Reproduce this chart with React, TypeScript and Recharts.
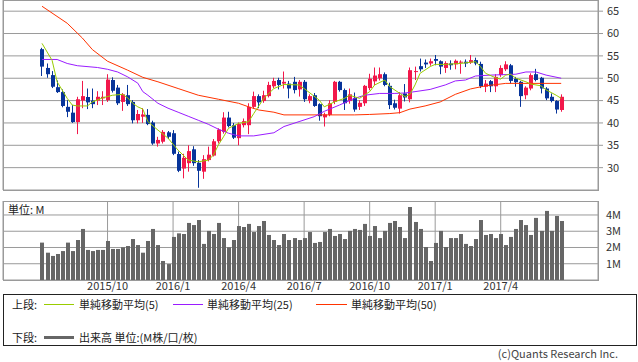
import { Bar, CartesianGrid, ComposedChart, Line, XAxis, YAxis } from "recharts";

// weekly candles, oldest first
const OPEN = [
  56.5, 52.3, 50.7, 48.0, 46.9, 43.6, 42.3, 40.2, 45.0, 45.8, 45.0, 45.0, 45.5, 45.1, 49.6, 47.9, 44.7, 46.2, 44.7, 40.6,
  41.4, 41.8, 40.1, 35.4, 35.8, 37.9, 37.7, 33.05, 29.8, 31.0, 34.1, 31.1, 29.1, 31.7, 32.7, 35.9, 38.0, 41.2, 39.5, 36.6,
  39.5, 39.5, 43.6, 46.0, 44.9, 46.0, 48.2, 49.6, 48.8, 48.8, 49.2, 47.5, 49.2, 45.0, 46.2, 44.2, 41.25, 41.8, 44.7, 49.2,
  47.35, 44.9, 45.6, 43.6, 44.4, 47.8, 49.3, 50.0, 50.9, 48.3, 44.4, 43.2, 46.6, 45.3, 51.4, 52.7, 53.5, 53.3, 54.3, 53.8,
  52.3, 53.3, 53.1, 53.5, 53.7, 53.5, 54.05, 53.2, 48.1, 49.35, 48.2, 50.7, 52.0, 52.9, 49.9, 49.2, 46.2, 47.7, 50.9, 50.1,
  47.7, 45.85, 44.9, 42.9,
];
const HIGH = [
  56.8, 53.3, 51.6, 49.5, 47.5, 45.1, 44.0, 45.85, 49.4, 47.7, 47.7, 47.1, 47.1, 50.9, 50.2, 48.5, 46.7, 48.5, 45.1, 42.9,
  43.3, 43.1, 40.5, 36.9, 38.4, 38.2, 38.4, 33.6, 33.1, 35.0, 34.8, 31.7, 32.8, 34.7, 36.4, 38.8, 42.4, 42.5, 40.0, 40.1,
  41.0, 44.4, 47.0, 46.4, 47.2, 49.2, 50.1, 50.1, 51.5, 49.4, 50.3, 49.6, 49.6, 46.4, 46.7, 44.4, 42.3, 45.1, 49.4, 49.4,
  47.7, 47.7, 46.8, 45.1, 48.5, 51.0, 52.4, 52.4, 51.3, 49.0, 45.2, 46.9, 48.7, 52.4, 52.6, 54.4, 54.2, 54.4, 55.2, 54.0,
  53.8, 54.0, 54.2, 54.0, 54.2, 55.2, 54.6, 53.7, 49.6, 49.6, 50.9, 52.9, 53.8, 53.2, 50.3, 49.4, 48.2, 51.1, 52.1, 50.3,
  48.0, 46.6, 45.1, 46.4,
];
const LOW = [
  50.5, 50.1, 47.8, 46.7, 43.5, 41.3, 40.0, 37.5, 43.3, 43.1, 43.3, 44.0, 44.0, 44.7, 46.8, 44.0, 42.7, 43.8, 39.9, 39.9,
  40.0, 39.5, 35.1, 34.7, 35.4, 36.4, 32.8, 29.0, 27.6, 29.1, 30.4, 25.5, 27.5, 31.4, 32.5, 35.4, 37.6, 39.0, 36.4, 35.0,
  39.0, 37.5, 43.2, 43.3, 44.5, 45.7, 47.8, 47.5, 47.7, 45.5, 46.6, 45.9, 44.7, 44.4, 43.6, 40.5, 39.2, 41.5, 44.2, 47.0,
  42.9, 44.3, 42.5, 42.9, 43.8, 47.3, 48.5, 49.5, 48.2, 43.1, 43.0, 42.1, 44.8, 44.6, 49.6, 51.5, 52.3, 52.8, 52.9, 50.9,
  51.2, 51.9, 52.0, 51.0, 52.5, 53.2, 52.9, 47.8, 46.9, 46.9, 46.9, 50.3, 51.6, 48.8, 48.1, 43.6, 45.3, 47.3, 49.3, 46.6,
  45.1, 44.6, 42.1, 42.5,
];
const CLOSE = [
  52.6, 50.9, 48.1, 46.9, 43.8, 42.5, 40.2, 45.3, 46.0, 44.6, 44.2, 45.85, 45.85, 49.7, 47.2, 44.4, 46.4, 44.2, 40.6, 42.0,
  41.9, 39.75, 35.4, 36.2, 38.0, 36.9, 33.1, 29.3, 32.2, 33.7, 31.0, 29.3, 31.9, 32.9, 35.9, 38.5, 41.2, 39.3, 36.7, 39.75,
  40.4, 43.6, 46.0, 44.6, 46.2, 48.5, 49.4, 48.5, 49.2, 47.7, 47.35, 49.2, 45.3, 46.0, 43.8, 41.5, 41.9, 44.4, 49.2, 47.35,
  44.4, 46.4, 43.0, 44.5, 48.3, 49.9, 50.6, 50.9, 48.5, 44.0, 43.4, 46.2, 45.7, 51.8, 51.6, 52.0, 53.1, 53.8, 53.9, 52.6,
  53.4, 52.9, 53.9, 53.7, 53.3, 54.05, 53.3, 48.2, 48.8, 48.2, 50.3, 52.3, 53.1, 49.4, 49.1, 46.0, 47.9, 50.7, 49.6, 47.7,
  45.5, 44.9, 43.0, 45.85,
];
// volume, millions
const VOLUME = [
  2.3, 1.68, 1.48, 1.6, 1.78, 2.3, 1.78, 2.46, 3.14, 1.85, 1.78, 1.85, 1.85, 2.4, 1.91, 1.91, 2.01, 2.09, 2.52, 2.15,
  1.68, 2.4, 3.14, 2.15, 1.17, 0.98, 2.65, 2.87, 2.83, 3.51, 3.38, 3.69, 2.22, 3.02, 2.83, 3.51, 2.58, 2.01, 2.46, 3.32,
  3.26, 3.45, 2.95, 3.32, 3.63, 2.77, 2.46, 2.15, 2.83, 2.46, 2.58, 2.46, 2.58, 2.95, 2.28, 2.34, 2.95, 3.14, 2.71, 2.83,
  2.52, 3.02, 3.14, 3.08, 3.45, 2.71, 3.32, 2.58, 3.02, 3.51, 3.63, 3.26, 2.58, 4.49, 3.57, 3.14, 2.03, 1.17, 2.28, 3.02,
  2.03, 2.58, 2.58, 2.83, 2.22, 2.09, 2.52, 3.69, 2.77, 2.83, 2.58, 2.83, 2.15, 2.65, 3.14, 3.69, 3.38, 2.77, 3.82, 3.02,
  4.25, 3.02, 3.94, 3.63,
];

// moving averages: [week index, value]
const MA5 = [
  [0, 57.8], [2, 54.0], [3, 49.2], [5, 45.5], [6, 44.0], [7, 43.8], [9, 43.8], [10, 44.7], [12, 45.6], [14, 46.2],
  [16, 46.4], [17, 45.6], [18, 44.4], [19, 43.6], [20, 43.1], [21, 40.3], [23, 38.4], [25, 36.6], [27, 33.9], [29, 31.7],
  [31, 31.3], [33, 31.7], [34, 32.8], [35, 35.1], [36, 36.9], [37, 38.8], [39, 39.9], [41, 40.3], [42, 42.1], [44, 45.5],
  [46, 47.7], [48, 48.6], [51, 48.5], [52, 47.7], [55, 45.1], [56, 43.6], [58, 44.7], [60, 45.5], [61, 46.2], [63, 45.5],
  [65, 47.0], [66, 48.5], [68, 49.6], [69, 48.1], [71, 46.6], [72, 45.9], [73, 46.4], [74, 48.5], [75, 51.1], [77, 52.6],
  [78, 53.1], [80, 53.1], [83, 53.3], [86, 53.7], [87, 52.6], [88, 51.1], [90, 50.1], [91, 49.8], [92, 50.7], [93, 50.9],
  [94, 50.0], [96, 49.2], [97, 48.7], [99, 48.3], [100, 47.4], [102, 46.2], [103, 45.5],
];
const MA25 = [
  [0, 54.2], [3, 54.2], [5, 53.3], [7, 52.8], [11, 52.4], [13, 52.0], [15, 51.4], [17, 50.3], [19, 48.9], [20, 47.0],
  [21, 46.2], [23, 44.4], [25, 43.3], [27, 42.4], [29, 41.5], [31, 40.6], [33, 39.7], [35, 38.6], [37, 37.7], [39, 37.1],
  [42, 37.1], [46, 37.8], [48, 39.2], [51, 40.3], [54, 41.4], [56, 42.6], [59, 44.0], [62, 45.5], [64, 46.2], [67, 46.6],
  [70, 46.6], [72, 46.7], [74, 47.0], [77, 47.5], [80, 48.5], [82, 49.4], [84, 49.6], [86, 50.5], [89, 50.7], [94, 50.9],
  [96, 51.4], [98, 51.4], [100, 50.7], [103, 50.0],
];
const MA50 = [
  [0, 66.1], [5, 62.3], [8, 59.0], [10, 56.4], [13, 53.8], [17, 51.8], [20, 50.2], [23, 49.2], [27, 47.7], [31, 46.2],
  [35, 45.3], [39, 44.4], [41, 43.6], [43, 42.9], [46, 42.4], [48, 41.8], [62, 41.8], [65, 41.9], [69, 42.1], [71, 42.3],
  [73, 43.1], [76, 43.8], [79, 44.7], [82, 46.4], [85, 47.6], [88, 48.3], [92, 48.85], [103, 48.85],
];

const X_TICKS = [13, 26, 39, 52, 65, 78, 91];
const X_LABELS = ["2015/10", "2016/1", "2016/4", "2016/7", "2016/10", "2017/1", "2017/4"];
const PRICE_TICKS = [30, 35, 40, 45, 50, 55, 60, 65];
const VOL_TICKS = [1, 2, 3, 4];

const UP = "#f2184b";
const DOWN = "#07349a";
const GRID = "#9a9a9a";
const FONT = '"Noto Sans CJK JP", "Noto Sans", sans-serif';
const X_DOMAIN = [-7.74, 110.3];

const lookup = (pairs: number[][]) => {
  const m = new Map<number, number>();
  pairs.forEach(([i, v]) => m.set(i, v));
  return m;
};
const ma5Map = lookup(MA5);
const ma25Map = lookup(MA25);
const ma50Map = lookup(MA50);

const rows = OPEN.map((o, i) => ({
  i,
  o,
  c: CLOSE[i],
  range: [LOW[i], HIGH[i]],
  vol: VOLUME[i],
  ma5: ma5Map.get(i) ?? null,
  ma25: ma25Map.get(i) ?? null,
  ma50: ma50Map.get(i) ?? null,
}));

function Candle(props: any) {
  const { x, y, width, height, payload } = props;
  if (x == null || !payload) return null;
  const [lo, hi] = payload.range;
  const top = Math.min(y, y + height);
  const h = Math.abs(height);
  const span = hi - lo || 1;
  const py = (v: number) => top + ((hi - v) / span) * h;
  const up = payload.c >= payload.o;
  const color = up ? UP : DOWN;
  const bTop = py(Math.max(payload.o, payload.c));
  const bBot = py(Math.min(payload.o, payload.c));
  const rx = Math.round(x + width / 2 - 2);
  return (
    <g>
      <line x1={rx + 1.5} x2={rx + 1.5} y1={top} y2={top + h} stroke={color} strokeWidth={1} />
      <rect x={rx} y={bTop} width={4} height={Math.max(1, bBot - bTop)} fill={color} />
    </g>
  );
}

function VolBar(props: any) {
  const { x, y, width, height } = props;
  if (x == null) return null;
  const rx = Math.round(x + width / 2 - 2);
  return <rect x={rx} y={y} width={4} height={height} fill="#666666" />;
}

const tickStyle = { fill: "#333", fontSize: 11, fontFamily: FONT };

export default function App() {
  return (
    <div style={{ position: "relative", width: 638, height: 362, background: "#fff", fontFamily: FONT }}>
      <style>{`body{margin:0}`}</style>

      <div style={{ position: "absolute", left: 0, top: 0 }}>
        <ComposedChart width={638} height={191} data={rows} margin={{ top: 0, right: 0, left: 3, bottom: 1 }}>
          <CartesianGrid stroke={GRID} />
          <XAxis
            type="number"
            dataKey="i"
            domain={X_DOMAIN}
            ticks={X_TICKS}
            interval={0}
            allowDataOverflow
            height={0}
            tick={false}
            tickLine={false}
            axisLine={false}
          />
          <YAxis
            orientation="right"
            width={40}
            domain={[25, 67.5]}
            ticks={PRICE_TICKS}
            interval={0}
            allowDataOverflow
            axisLine={false}
            tickLine={{ stroke: GRID }}
            tickSize={5}
            tickMargin={4}
            tick={tickStyle}
          />
          <Bar dataKey="range" barSize={4} shape={<Candle />} isAnimationActive={false} />
          <Line dataKey="ma50" stroke="#ff3300" dot={false} connectNulls strokeWidth={1} isAnimationActive={false} />
          <Line dataKey="ma25" stroke="#9a1cff" dot={false} connectNulls strokeWidth={1} isAnimationActive={false} />
          <Line dataKey="ma5" stroke="#99cc00" dot={false} connectNulls strokeWidth={1} isAnimationActive={false} />
        </ComposedChart>
      </div>
      <div
        style={{
          position: "absolute",
          left: 3,
          top: 0,
          width: 596,
          height: 191,
          border: `1px solid ${GRID}`,
          boxSizing: "border-box",
          pointerEvents: "none",
        }}
      />

      <div style={{ position: "absolute", left: 0, top: 201 }}>
        <ComposedChart width={638} height={100} data={rows} margin={{ top: 0, right: 0, left: 3, bottom: 0 }}>
          <CartesianGrid stroke={GRID} />
          <XAxis
            type="number"
            dataKey="i"
            domain={X_DOMAIN}
            ticks={X_TICKS}
            interval={0}
            allowDataOverflow
            height={21}
            tickLine={false}
            axisLine={false}
            tickSize={0}
            tickMargin={2}
            tick={tickStyle}
            tickFormatter={(v: number) => X_LABELS[X_TICKS.indexOf(v)] ?? ""}
          />
          <YAxis
            orientation="right"
            width={40}
            domain={[0, 4.86]}
            ticks={VOL_TICKS}
            interval={0}
            allowDataOverflow
            axisLine={false}
            tickLine={false}
            tickSize={0}
            tickMargin={8}
            tick={tickStyle}
            tickFormatter={(v: number) => `${v}M`}
          />
          <Bar dataKey="vol" barSize={4} shape={<VolBar />} isAnimationActive={false} />
        </ComposedChart>
      </div>
      <div
        style={{
          position: "absolute",
          left: 3,
          top: 201,
          width: 596,
          height: 80,
          border: `1px solid ${GRID}`,
          boxSizing: "border-box",
          pointerEvents: "none",
        }}
      />
      <div style={{ position: "absolute", left: 8, top: 202, fontSize: 11, color: "#222", lineHeight: "14px" }}>
        単位: M
      </div>

      <div
        style={{
          position: "absolute",
          left: 3,
          top: 294,
          width: 634,
          height: 52,
          border: "1px solid #222",
          boxSizing: "border-box",
          fontSize: 11,
          color: "#222",
          lineHeight: "14px",
        }}
      >
        <span style={{ position: "absolute", left: 8, top: 2 }}>上段:</span>
        <span style={{ position: "absolute", left: 40, top: 9, width: 30, height: 1, background: "#99cc00" }} />
        <span style={{ position: "absolute", left: 75, top: 2 }}>単純移動平均(5)</span>
        <span style={{ position: "absolute", left: 169, top: 9, width: 30, height: 1, background: "#9a1cff" }} />
        <span style={{ position: "absolute", left: 203, top: 2 }}>単純移動平均(25)</span>
        <span style={{ position: "absolute", left: 312, top: 9, width: 31, height: 1, background: "#ff3300" }} />
        <span style={{ position: "absolute", left: 347, top: 2 }}>単純移動平均(50)</span>

        <span style={{ position: "absolute", left: 8, top: 35 }}>下段:</span>
        <span style={{ position: "absolute", left: 40, top: 41, width: 30, height: 3, background: "#666" }} />
        <span style={{ position: "absolute", left: 75, top: 35 }}>出来高 単位:(M株/口/枚)</span>
      </div>
      <div style={{ position: "absolute", right: 20, top: 346, fontSize: 11, color: "#444", lineHeight: "14px" }}>
        (c)Quants Research Inc.
      </div>
    </div>
  );
}
